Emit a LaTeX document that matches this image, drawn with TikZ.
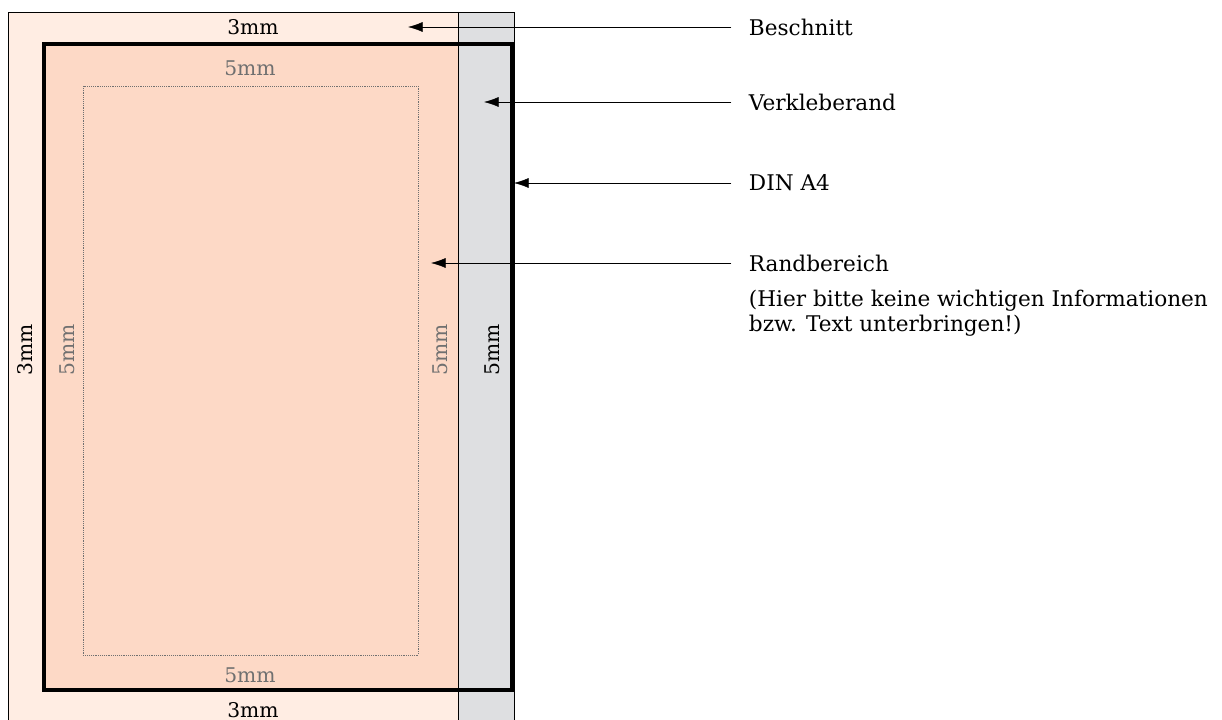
\documentclass[tikz,border=0pt]{standalone}
\usepackage{fontspec}
\setmainfont{DejaVu Serif}
\usetikzlibrary{arrows.meta}
\definecolor{bleedpink}{HTML}{FFEDE3}
\definecolor{pagepink}{HTML}{FDD9C6}
\definecolor{gluegray}{HTML}{DEDFE1}
\definecolor{sizegray}{HTML}{707070}

\begin{document}
\begin{tikzpicture}[x=0.75pt,y=-0.75pt,>={Latex[length=11pt,width=7.5pt]},
  size text/.style={font=\fontsize{15.2}{18}\selectfont,inner sep=0pt},
  inner size/.style={size text,text=sizegray},
  side label/.style={font=\fontsize{16.2}{18.75}\selectfont,anchor=west,inner sep=2pt}]
  \useasboundingbox (0,0) rectangle (1222,720);
  % areas
  \fill[bleedpink] (8,12) rectangle (458,724);
  \fill[gluegray] (458,12) rectangle (514,724);
  \fill[pagepink] (44,44) rectangle (458,690);
  \draw (8,724) -- (8,12) -- (514,12) -- (514,724);
  \draw (458,12) -- (458,724);
  \draw[line width=3.3pt] (44,44) rectangle (512,690);
  \draw[densely dotted, sizegray] (83,86) rectangle (418,655);
  % sizes
  \node[size text] (bt) at (253,27) {3mm};
  \node[size text] (bb) at (253,710) {3mm};
  \node[size text, rotate=90] (bl) at (25,350) {3mm};
  \node[size text, rotate=90] (gr) at (492,350) {5mm};
  \node[inner size] (rt) at (250,68) {5mm};
  \node[inner size] (rb) at (250,675) {5mm};
  \node[inner size, rotate=90] (rl) at (67,350) {5mm};
  \node[inner size, rotate=90] (rr) at (440,350) {5mm};
  % targets
  \coordinate (cBeschnitt) at (408,27);
  \coordinate (cKleber) at (484,102);
  \coordinate (cDIN) at (514,183);
  \coordinate (cRand) at (431,263);
  % labels
  \node[side label] (Beschnitt) at (746,27) {Beschnitt};
  \node[side label] (Kleber) at (746,102) {Verkleberand};
  \node[side label] (DIN) at (746,183) {DIN A4};
  \node[side label] (Rand) at (746,263) {Randbereich};
  \node[side label, anchor=north west, align=left] (note) at (746,287)
    {(Hier bitte keine wichtigen Informationen\\bzw. Text unterbringen!)};
  \path[->, shorten <=11pt]
     (Beschnitt.west) edge (cBeschnitt)
     (Kleber.west) edge (cKleber)
     (DIN.west) edge (cDIN)
     (Rand.west) edge (cRand);
\end{tikzpicture}
\end{document}
